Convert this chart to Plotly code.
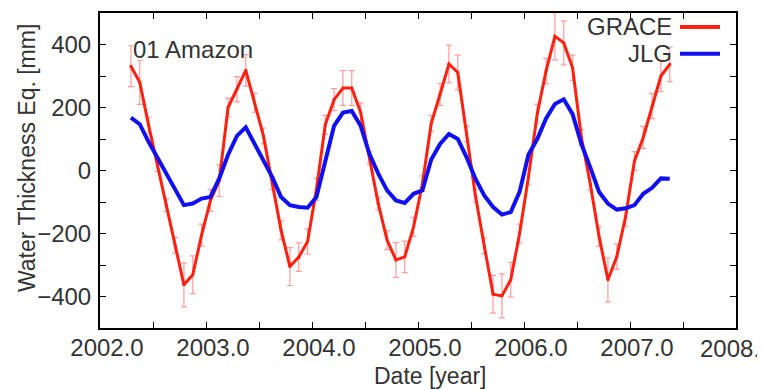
import plotly.graph_objects as go

# Monthly samples, April 2002 - May 2007
months = [
    "2002-04", "2002-05", "2002-06", "2002-07", "2002-08", "2002-09", "2002-10", "2002-11", "2002-12",
    "2003-01", "2003-02", "2003-03", "2003-04", "2003-05", "2003-06", "2003-07", "2003-08", "2003-09", "2003-10", "2003-11", "2003-12",
    "2004-01", "2004-02", "2004-03", "2004-04", "2004-05", "2004-06", "2004-07", "2004-08", "2004-09", "2004-10", "2004-11", "2004-12",
    "2005-01", "2005-02", "2005-03", "2005-04", "2005-05", "2005-06", "2005-07", "2005-08", "2005-09", "2005-10", "2005-11", "2005-12",
    "2006-01", "2006-02", "2006-03", "2006-04", "2006-05", "2006-06", "2006-07", "2006-08", "2006-09", "2006-10", "2006-11", "2006-12",
    "2007-01", "2007-02", "2007-03", "2007-04", "2007-05",
]

grace = [
    331, 280, 144, 17, -110, -237, -363, -331, -205,
    -95, -32, 200, 258, 318, 215, 110, -40, -190, -305, -275, -225,
    -60, 145, 225, 262, 262, 185, 40, -105, -221, -284, -274, -179,
    -42, 150, 242, 338, 311, 116, -80, -239, -393, -398, -347, -200,
    -21, 180, 316, 426, 405, 326, 105, -42, -210, -347, -274, -147,
    30, 105, 205, 300, 337,
]

grace_err = [
    65, 70, 25, 20, 20, 25, 70, 60, 35,
    35, 50, 30, 40, 50, 30, 25, 20, 30, 60, 45, 40,
    35, 30, 35, 55, 55, 30, 20, 20, 30, 55, 50, 30,
    25, 25, 35, 60, 55, 25, 20, 25, 60, 70, 55, 30,
    25, 30, 40, 75, 70, 40, 25, 20, 30, 70, 40, 30,
    30, 35, 40, 50, 55,
]

jlg = [
    168, 147, 91, 40, -10, -61, -110, -105, -89,
    -84, -25, 50, 110, 137, 84, 32, -21, -84, -110, -116, -118,
    -84, 35, 142, 184, 189, 142, 53, -10, -63, -95, -103, -74,
    -63, 35, 84, 116, 100, 42, -26, -79, -116, -140, -132, -68,
    50, 100, 165, 211, 226, 179, 84, 10, -68, -105, -124, -120,
    -110, -74, -55, -25, -26,
]

x_ticks = [2002, 2003, 2004, 2005, 2006, 2007]
x_last_label = "2008."   # last tick label, at the right edge in the original
y_ticks = [-400, -200, 0, 200, 400]

series_names = ["GRACE", "JLG"]
title_text = "01 Amazon"

years = [int(m[:4]) + (int(m[5:]) - 0.5) / 12 for m in months]

RED = "#ff2010"
BLUE = "#1010f0"
FONT = "Liberation Sans, Arial, sans-serif"
TXT = "#333333"

# The page body adds an 8px margin; figure is sized/positioned to compensate.
OFF = 8
W, H = 765 - OFF, 389 - OFF
pl, pt = 100 - OFF, 11 - OFF
pr = 765 - 736
pb = 389 - 328
pw, ph = W - pl - pr, H - pt - pb


def px(xp):
    """page x pixel -> paper coord"""
    return (xp - OFF - pl) / pw


def py(yp):
    """page y pixel -> paper coord"""
    return (H - pb - (yp - OFF)) / ph


fig = go.Figure()
fig.add_trace(go.Scatter(
    x=years, y=grace, mode="lines+markers", name=series_names[0],
    line=dict(color=RED, width=3),
    marker=dict(color=RED, size=3),
    error_y=dict(type="data", array=grace_err, color="rgba(255,90,90,0.6)", thickness=1.2, width=3),
    showlegend=False,
))
fig.add_trace(go.Scatter(
    x=years, y=jlg, mode="lines", name=series_names[1],
    line=dict(color=BLUE, width=4),
    showlegend=False,
))

axis_common = dict(
    showgrid=False, zeroline=False,
    showline=True, linecolor="black", linewidth=2, mirror="ticks",
    ticks="inside", ticklen=6, tickcolor="black", tickwidth=1,
    tickfont=dict(family=FONT, size=24, color=TXT),
)

fig.update_xaxes(
    range=[2002, 2008], tickvals=x_ticks, tickformat=".1f",
    minor=dict(dtick=0.5, ticks="inside", ticklen=6, tickcolor="black"),
    ticklabelshift=7, ticklabelstandoff=-3,
    **axis_common,
)
fig.update_yaxes(
    range=[-500, 500], tickvals=y_ticks,
    minor=dict(dtick=100, ticks="inside", ticklen=6, tickcolor="black"),
    ticklabelstandoff=2,
    **axis_common,
)

fig.update_layout(
    width=W, height=H,
    margin=dict(l=pl, r=pr, t=pt, b=pb),
    paper_bgcolor="white", plot_bgcolor="white",
    showlegend=False,
)

fig.add_annotation(text=x_last_label, x=px(762), y=py(349), xref="paper", yref="paper",
                   showarrow=False, font=dict(family=FONT, size=24, color=TXT),
                   xanchor="right", yanchor="middle")
fig.add_annotation(text="Date [year]", x=px(430), y=py(376), xref="paper", yref="paper",
                   showarrow=False, font=dict(family=FONT, size=23, color=TXT),
                   xanchor="center", yanchor="middle")
fig.add_annotation(text="Water Thickness Eq. [mm]", x=px(27), y=py(157), xref="paper", yref="paper",
                   showarrow=False, textangle=-90, font=dict(family=FONT, size=23, color=TXT),
                   xanchor="center", yanchor="middle")
fig.add_annotation(text=title_text, x=px(131), y=py(48), xref="paper", yref="paper",
                   showarrow=False, font=dict(family=FONT, size=24, color=TXT),
                   xanchor="left", yanchor="middle")

# legend (text left of line sample)
leg_rows = [(series_names[0], RED, 25), (series_names[1], BLUE, 52)]
for name, col, yy in leg_rows:
    fig.add_annotation(text=name, x=px(674), y=py(yy), xref="paper", yref="paper",
                       showarrow=False, font=dict(family=FONT, size=24, color=TXT),
                       xanchor="right", yanchor="middle")
    fig.add_shape(type="line", xref="paper", yref="paper",
                  x0=px(680), x1=px(720), y0=py(yy), y1=py(yy),
                  line=dict(color=col, width=4))

fig.write_html("out.html")
